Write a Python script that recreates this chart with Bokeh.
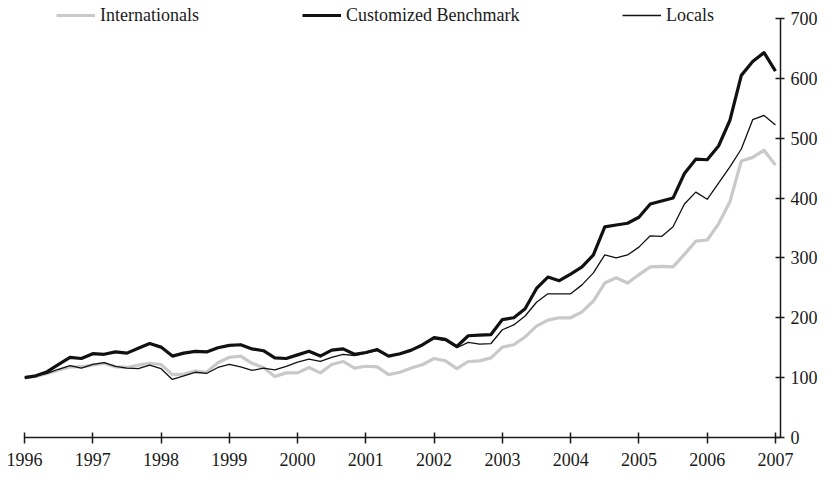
from bokeh.plotting import figure
from bokeh.models import Range1d, FixedTicker, Legend, LegendItem, ColumnDataSource
from bokeh.embed import file_html
from bokeh.resources import INLINE

# bi-monthly grid, 1996.0 .. 2007.0
years = [1996 + k / 6 for k in range(67)]

internationals = [
    100, 102, 107, 113, 118, 118, 121, 124, 118, 117, 121, 124,
    122, 105, 106, 111, 109, 125, 134, 136, 124, 117, 102, 108,
    108, 117, 108, 122, 127, 116, 119, 118, 105, 109, 116, 122,
    132, 128, 115, 127, 128, 133, 151, 155, 168, 186, 196, 200,
    200, 210, 228, 258, 267, 258, 272, 285, 286, 285, 306, 328,
    330, 357, 394, 462, 468, 480, 455,
]

benchmark = [
    100, 103, 110, 122, 134, 132, 140, 139, 143, 141, 149, 157,
    151, 136, 141, 144, 143, 150, 154, 155, 148, 145, 133, 132,
    138, 144, 136, 146, 148, 139, 142, 147, 136, 140, 146, 155,
    167, 164, 152, 170, 171, 172, 197, 200, 215, 249, 268, 262,
    273, 285, 305, 352, 355, 358, 368, 390, 395, 400, 441, 465,
    464, 487, 530, 605, 628, 643, 612,
]

locals_ = [
    100, 103, 107, 114, 120, 116, 122, 125, 119, 116, 115, 121,
    115, 97, 103, 109, 107, 117, 122, 118, 112, 116, 113, 119,
    126, 131, 127, 134, 139, 137, 141, 145, 136, 139, 145, 155,
    165, 162, 150, 159, 156, 157, 180, 188, 203, 226, 240, 240,
    240, 255, 275, 305, 300, 305, 318, 337, 336, 352, 390, 410,
    398, 425, 452, 482, 531, 538, 522,
]

x_ticks = list(range(1996, 2008))
y_ticks = [0, 100, 200, 300, 400, 500, 600, 700]
labels = ["Internationals", "Customized Benchmark", "Locals"]

src = ColumnDataSource(dict(x=years, i=internationals, b=benchmark, l=locals_))

FONT = "Liberation Serif"
TXT = "#1a1a1a"

p = figure(
    frame_width=756, frame_height=433,
    x_range=Range1d(1996, 2007.074), y_range=Range1d(0, 723.4),
    output_backend="svg", toolbar_location=None,
    y_axis_location="right",
    min_border_left=24, min_border_top=4, min_border_right=4, min_border_bottom=4,
)
p.outline_line_color = None
p.xgrid.visible = False
p.ygrid.visible = False
p.background_fill_color = "white"

r_i = p.line("x", "i", source=src, line_color="#c9c9c9", line_width=3.2, line_join="round")
r_l = p.line("x", "l", source=src, line_color="#111111", line_width=1.3, line_join="round")
r_b = p.line("x", "b", source=src, line_color="#111111", line_width=3.2, line_join="round")

for ax in (p.xaxis[0], p.yaxis[0]):
    ax.axis_line_color = "#1a1a1a"
    ax.axis_line_width = 1.5
    ax.major_tick_line_color = "#1a1a1a"
    ax.major_tick_line_width = 1.5
    ax.minor_tick_line_color = None
    ax.major_label_text_font = FONT
    ax.major_label_text_font_size = "18px"
    ax.major_label_text_color = TXT

p.xaxis[0].ticker = FixedTicker(ticks=x_ticks)
p.xaxis[0].major_tick_in = 5
p.xaxis[0].major_tick_out = 6
p.xaxis[0].major_label_standoff = 9

p.yaxis[0].ticker = FixedTicker(ticks=y_ticks)
p.yaxis[0].bounds = (0, 700)
p.yaxis[0].major_tick_in = 5
p.yaxis[0].major_tick_out = 4
p.yaxis[0].major_label_standoff = 6

positions = [32, 278, 598]
for lab, rend, xpos in zip(labels, [r_i, r_b, r_l], positions):
    lg = Legend(
        items=[LegendItem(label=lab, renderers=[rend])],
        location=(xpos, 411), orientation="horizontal",
        padding=0, margin=0, spacing=0,
        glyph_width=39, glyph_height=22, label_standoff=5, label_height=22,
        label_text_font=FONT, label_text_font_size="18px", label_text_color=TXT,
        border_line_color=None, background_fill_alpha=0,
    )
    p.add_layout(lg, "center")

open("out.html", "w").write(file_html(p, INLINE))
